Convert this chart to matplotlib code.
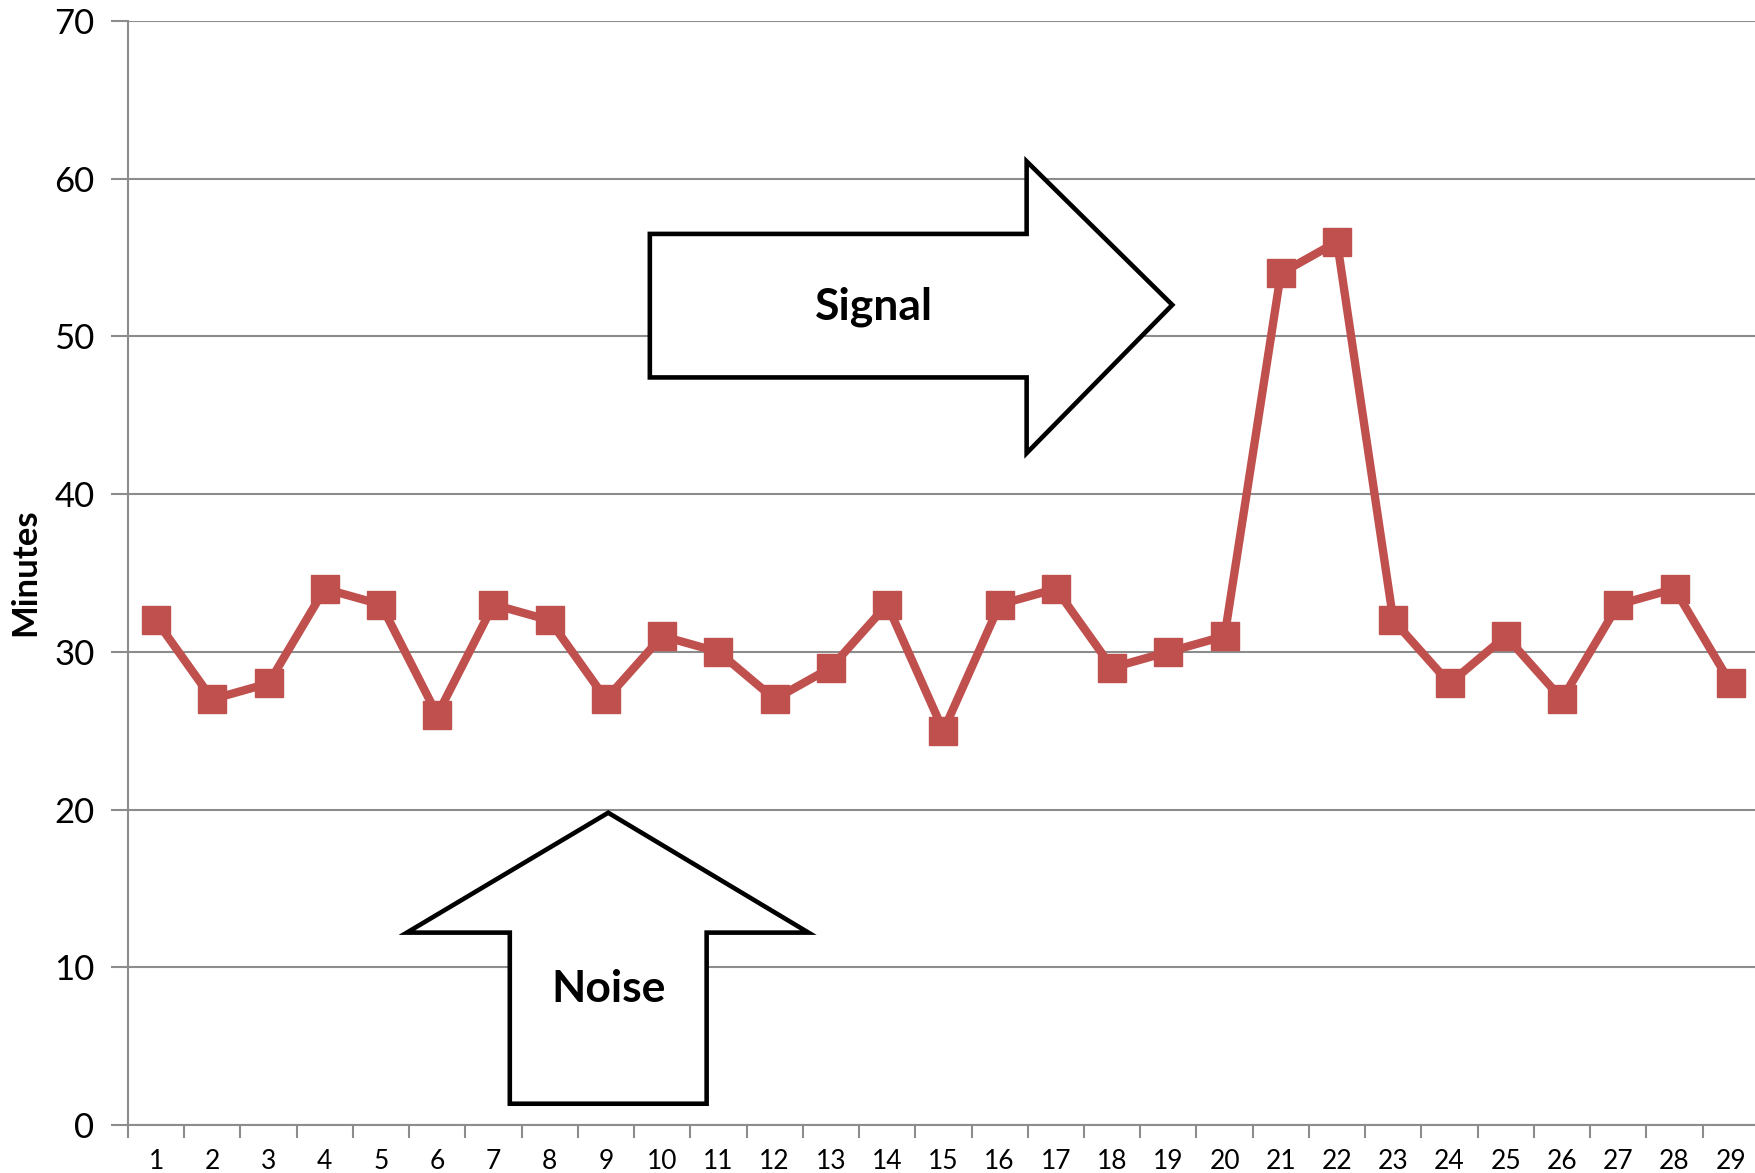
import matplotlib
matplotlib.use("Agg")
import matplotlib.pyplot as plt
from matplotlib.patches import Polygon

plt.rcParams['font.family'] = ['Lato', 'DejaVu Sans']

# data
days = list(range(1, 30))
minutes = [32, 27, 28, 34, 33, 26, 33, 32, 27, 31, 30, 27, 29, 33, 25,
           33, 34, 29, 30, 31, 54, 56, 32, 28, 31, 27, 33, 34, 28]
y_ticks = [0, 10, 20, 30, 40, 50, 60, 70]

line_color = '#C0504D'
grid_color = '#8C8C8C'

fig = plt.figure(figsize=(17.55, 11.73), dpi=100)
ax = fig.add_axes([0.0729, 0.0409, 0.9293, 0.9412])

ax.plot(days, minutes, color=line_color, linewidth=6, marker='s',
        markersize=19.5, markerfacecolor=line_color, markeredgecolor=line_color,
        zorder=4, clip_on=False)

ax.set_xlim(0.5, 29.5)
ax.set_ylim(0, 70)

# y axis
ax.set_yticks(y_ticks)
ax.tick_params(axis='y', labelsize=25, length=12, width=1.5, color=grid_color, pad=12)
ax.yaxis.grid(True, color=grid_color, linewidth=1.5)
ax.set_axisbelow(True)

# x axis: ticks between categories, labels centered
ax.set_xticks([d - 0.5 for d in days] + [days[-1] + 0.5])
ax.set_xticklabels([])
ax.set_xticks(days, minor=True)
ax.set_xticklabels([str(d) for d in days], minor=True)
ax.tick_params(axis='x', which='major', length=9, width=1.5, color=grid_color)
ax.tick_params(axis='x', which='minor', length=0, labelsize=19, pad=17)

for s in ['top', 'right']:
    ax.spines[s].set_visible(False)
for s in ['left', 'bottom']:
    ax.spines[s].set_color(grid_color)
    ax.spines[s].set_linewidth(1.5)

fig.text(25 / 1755, 0.512, 'Minutes', fontsize=25, fontweight='bold',
         rotation=90, ha='center', va='center')

# annotation arrows
signal_arrow = [(9.78, 56.5), (16.48, 56.5), (16.48, 61.1), (19.07, 52.0),
                (16.48, 42.6), (16.48, 47.4), (9.78, 47.4)]
noise_arrow = [(9.04, 19.8), (12.6, 12.2), (10.79, 12.2), (10.79, 1.35),
               (7.29, 1.35), (7.29, 12.2), (5.46, 12.2)]
for pts in (signal_arrow, noise_arrow):
    ax.add_patch(Polygon(pts, closed=True, facecolor='white', edgecolor='black',
                         linewidth=3.3, zorder=3, joinstyle='miter'))

ax.text(13.76, 51.9, 'Signal', fontsize=32, fontweight='bold', ha='center', va='center', zorder=5)
ax.text(9.04, 8.6, 'Noise', fontsize=32, fontweight='bold', ha='center', va='center', zorder=5)

fig.savefig('out.png', dpi=100)
